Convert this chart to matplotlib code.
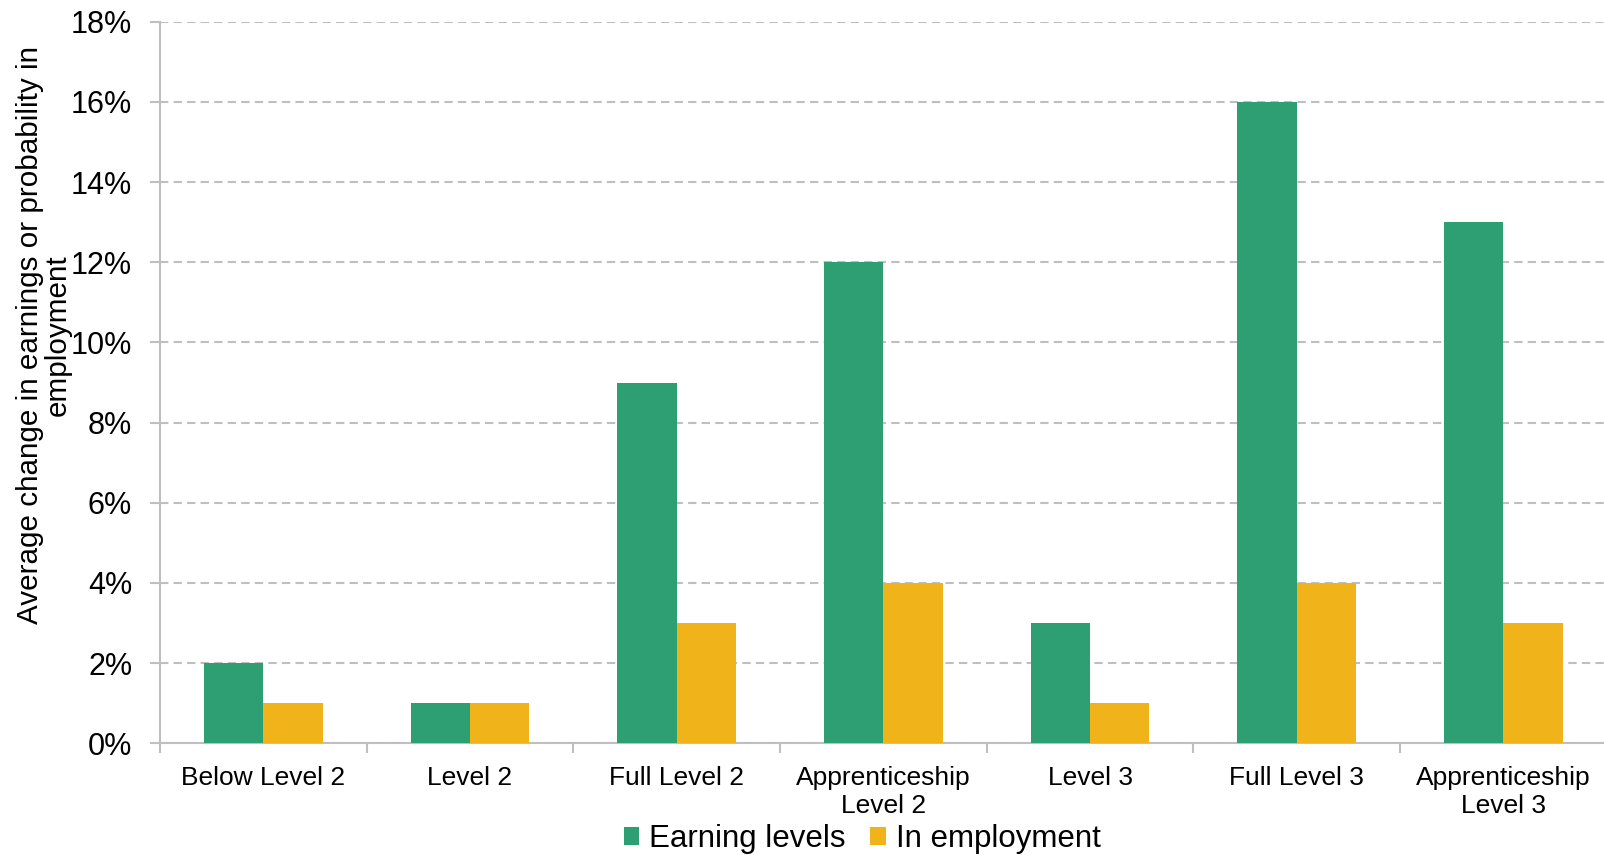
import numpy as np
import matplotlib
matplotlib.use("Agg")
from matplotlib import pyplot as plt
from matplotlib.ticker import FuncFormatter

plt.rcParams['font.family'] = ['Liberation Sans', 'DejaVu Sans']

# Datos
categorias = ["Below Level 2", "Level 2", "Full Level 2", "Apprenticeship\nLevel 2",
              "Level 3", "Full Level 3", "Apprenticeship\nLevel 3"]
earning_levels = [0.02, 0.01, 0.09, 0.12, 0.03, 0.16, 0.13]
in_employment = [0.01, 0.01, 0.03, 0.04, 0.01, 0.04, 0.03]

verde = "#2E9E73"
amarillo = "#F0B41A"
gris = "#BFBFBF"

W, H = 1604, 855
fig = plt.figure(figsize=(W / 100, H / 100), dpi=100)
# ejes en pixeles (izq, der, abajo, arriba)
izq, der, abajo, arriba = 160, 1606.7, 743.3, 21.7
ax = fig.add_axes([izq / W, 1 - abajo / H, (der - izq) / W, (abajo - arriba) / H])

x = np.arange(len(categorias))
ancho = 0.287
ax.bar(x - ancho / 2, earning_levels, ancho, color=verde, label="Earning levels", zorder=3)
ax.bar(x + ancho / 2, in_employment, ancho, color=amarillo, label="In employment", zorder=3)

ax.set_xlim(-0.5, len(categorias) - 0.5)
ax.set_ylim(0, 0.18)
ax.set_yticks(np.arange(0, 0.181, 0.02))
ax.yaxis.set_major_formatter(FuncFormatter(lambda v, p: f"{v * 100:.0f}%"))

# Etiquetas en el centro, marcas entre categorias
ax.set_xticks(x)
ax.set_xticklabels(categorias, fontsize=19, linespacing=1.25)
ax.set_xticks(np.arange(-0.5, len(categorias), 1.0), minor=True)
ax.tick_params(axis="x", which="major", length=0, pad=16)
ax.tick_params(axis="x", which="minor", length=7, width=1.5, color=gris, direction="out")
ax.tick_params(axis="y", labelsize=22, length=7, width=1.5, color=gris, pad=13)

ax.grid(axis="y", color=gris, linestyle=(0, (4, 2.5)), linewidth=1.5, zorder=0)
for lado in ["top", "right"]:
    ax.spines[lado].set_visible(False)
for lado in ["left", "bottom"]:
    ax.spines[lado].set_color(gris)
    ax.spines[lado].set_linewidth(1.5)

fig.text(44 / W, 1 - 335 / H,
         "Average change in earnings or probability in\nemployment",
         rotation=90, ha="center", va="center", multialignment="center",
         fontsize=21.3, linespacing=1.0)

fig.legend(loc="center", bbox_to_anchor=(862 / W, 1 - 839 / H), ncol=2,
           frameon=False, fontsize=22.5, handlelength=0.51, handleheight=0.51,
           handletextpad=0.3, columnspacing=0.8, borderpad=0)

fig.savefig("out.png", dpi=100)
